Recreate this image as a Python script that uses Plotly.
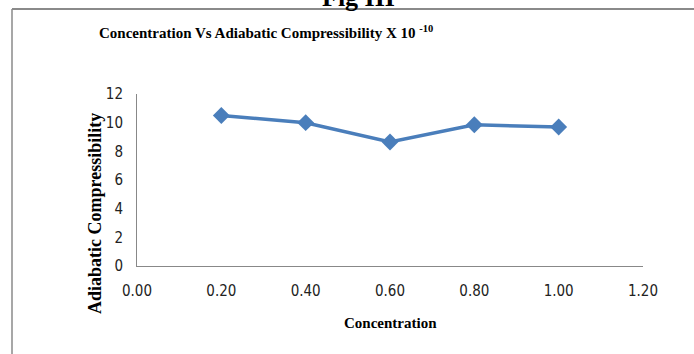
import plotly.graph_objects as go

concentration = [0.20, 0.40, 0.60, 0.80, 1.00]
compressibility = [10.5, 10.0, 8.65, 9.85, 9.7]
x_ticks = [0.0, 0.2, 0.4, 0.6, 0.8, 1.0, 1.2]
x_tick_labels = ["0.00", "0.20", "0.40", "0.60", "0.80", "1.00", "1.20"]
y_ticks = [0, 2, 4, 6, 8, 10, 12]

W, H = 694, 354
L, R, T, B = 137, 51, 94, 88
pw, ph = W - L - R, H - T - B

def px(x):
    return (x - L) / pw

def py(y):
    return (H - B - y) / ph

blue = "#4A7EBB"
serif = "Liberation Serif, Times New Roman, serif"
narrow = "Liberation Sans Narrow, Arial Narrow, DejaVu Sans Condensed, Liberation Sans, sans-serif"

fig = go.Figure()
fig.add_trace(go.Scatter(
    x=concentration, y=compressibility, mode="lines+markers",
    line=dict(color=blue, width=3.5),
    marker=dict(symbol="diamond", size=13, color=blue),
    showlegend=False, cliponaxis=False,
))

fig.update_layout(
    width=W, height=H,
    margin=dict(l=L, r=R, t=T, b=B),
    paper_bgcolor="white", plot_bgcolor="white",
    xaxis=dict(range=[0, 1.2], tickvals=x_ticks, ticktext=x_tick_labels,
               showgrid=False, zeroline=False, showline=True,
               linecolor="#888888", linewidth=1,
               ticks="outside", ticklen=11, tickcolor="rgba(0,0,0,0)",
               tickfont=dict(family=narrow, size=15, color="#222")),
    yaxis=dict(range=[0, 12], tickvals=y_ticks,
               showgrid=False, zeroline=False, showline=True,
               linecolor="#888888", linewidth=1,
               ticks="outside", ticklen=10, tickcolor="rgba(0,0,0,0)",
               tickfont=dict(family=narrow, size=15, color="#222")),
    shapes=[
        dict(type="line", xref="paper", yref="paper",
             x0=px(12), x1=px(12), y0=py(9), y1=py(H + 5),
             line=dict(color="#8a8a8a", width=1.5)),
        dict(type="line", xref="paper", yref="paper",
             x0=px(12), x1=px(W + 5), y0=py(9), y1=py(9),
             line=dict(color="#8a8a8a", width=2)),
    ],
    annotations=[
        dict(text="<b>Fig III</b>", xref="paper", yref="paper",
             x=px(358), y=py(14), xanchor="center", yanchor="bottom",
             showarrow=False, font=dict(family=serif, size=26, color="black")),
        dict(text="<b>Concentration Vs Adiabatic Compressibility X 10 <sup>-10</sup></b>",
             xref="paper", yref="paper", x=px(97), y=py(32),
             xanchor="left", yanchor="middle", showarrow=False,
             font=dict(family=serif, size=15, color="black")),
        dict(text="<b>Adiabatic Compressibility</b>", xref="paper", yref="paper",
             x=px(95), y=py(214), xanchor="center", yanchor="middle",
             textangle=-90, showarrow=False,
             font=dict(family=serif, size=18, color="black")),
        dict(text="<b>Concentration</b>", xref="paper", yref="paper",
             x=px(390), y=py(323), xanchor="center", yanchor="middle",
             showarrow=False, font=dict(family=serif, size=15, color="black")),
    ],
)

fig.write_html("out.html")
